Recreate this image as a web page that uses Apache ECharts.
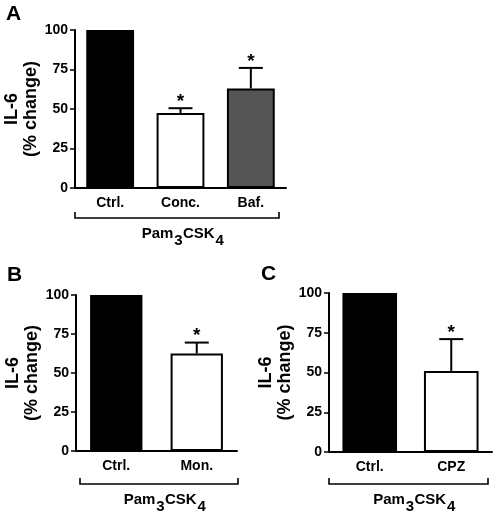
<!DOCTYPE html>
<html><head><meta charset="utf-8">
<script src="https://cdn.jsdelivr.net/npm/echarts@6/dist/echarts.min.js"></script>
<style>html,body{margin:0;padding:0;background:#fff}#c{width:498px;height:514px}</style>
</head><body><div id="c"></div>
<script>
// ---- data ----
const catsA = ['Ctrl.', 'Conc.', 'Baf.'];
const meanA = [100, 47.5, 63];
const semA = [0, 3, 13];
const sigA = [0, 1, 1];
const colorsA = ['#000000', '#ffffff', '#555555'];

const catsB = ['Ctrl.', 'Mon.'];
const meanB = [100, 62.5];
const semB = [0, 7];
const sigB = [0, 1];
const colorsB = ['#000000', '#ffffff'];

const catsC = ['Ctrl.', 'CPZ'];
const meanC = [100, 51];
const semC = [0, 20];
const sigC = [0, 1];
const colorsC = ['#000000', '#ffffff'];

const yMin = 0, yMax = 100, yStep = 25;
const yTitle = 'IL-6\n(% change)';
const panelLetters = ['A', 'B', 'C'];
const groupParts = ['Pam', '3', 'CSK', '4'];

// ---- layout ----
const FONT = 'Liberation Sans, Arial, sans-serif';
const panels = [
  {cats: catsA, mean: meanA, sem: semA, sig: sigA, colors: colorsA,
   grid: {left: 75, top: 30, width: 211, height: 158}, barWidth: '68%',
   letter: {x: 6, y: 4}, bracket: {x1: 75, x2: 279, y: 218}},
  {cats: catsB, mean: meanB, sem: semB, sig: sigB, colors: colorsB,
   grid: {left: 76, top: 295, width: 161, height: 156}, barWidth: '65%',
   letter: {x: 7, y: 265}, bracket: {x1: 80, x2: 238, y: 484}},
  {cats: catsC, mean: meanC, sem: semC, sig: sigC, colors: colorsC,
   grid: {left: 329, top: 293, width: 163, height: 159}, barWidth: '67%',
   letter: {x: 261, y: 264}, bracket: {x1: 329, x2: 488, y: 484}}
];

const grids = [], xAxes = [], yAxes = [], series = [], graphics = [];
panels.forEach((p, k) => {
  grids.push(Object.assign({containLabel: false}, p.grid));
  xAxes.push({
    type: 'category', gridIndex: k, data: p.cats,
    axisLine: {lineStyle: {color: '#000', width: 2}},
    axisTick: {alignWithLabel: true, length: 5, lineStyle: {color: '#000', width: 1.5}},
    axisLabel: {color: '#000', fontFamily: FONT, fontWeight: 'bold', fontSize: 14, margin: 8}
  });
  yAxes.push({
    type: 'value', gridIndex: k, min: yMin, max: yMax, interval: yStep,
    name: yTitle, nameLocation: 'middle', nameRotate: 90, nameGap: 31,
    nameTextStyle: {color: '#000', fontFamily: FONT, fontWeight: 'bold', fontSize: 18, lineHeight: 19},
    axisLine: {show: true, lineStyle: {color: '#000', width: 2}},
    axisTick: {show: true, length: 5, lineStyle: {color: '#000', width: 1.5}},
    axisLabel: {color: '#000', fontFamily: FONT, fontWeight: 'bold', fontSize: 14, margin: 7},
    splitLine: {show: false}
  });
  series.push({
    type: 'bar', xAxisIndex: k, yAxisIndex: k, barWidth: p.barWidth,
    data: p.mean.map((v, i) => ({value: v, itemStyle: {color: p.colors[i], borderColor: '#000', borderWidth: 2}})),
    silent: true, animation: false
  });
  series.push({
    type: 'custom', xAxisIndex: k, yAxisIndex: k, z: 5, animation: false, silent: true,
    data: p.mean.map((v, i) => [i, v, v + p.sem[i], p.sig[i]]),
    encode: {x: 0, y: 1},
    renderItem: function (params, api) {
      const x = api.value(0), m = api.value(1), t = api.value(2), s = api.value(3);
      const p0 = api.coord([x, m]);
      const p1 = api.coord([x, t]);
      const ch = [];
      if (t > m) {
        ch.push({type: 'line', shape: {x1: p0[0], y1: p0[1], x2: p1[0], y2: p1[1]}, style: {stroke: '#000', lineWidth: 2}});
        ch.push({type: 'line', shape: {x1: p1[0] - 12, y1: p1[1], x2: p1[0] + 12, y2: p1[1]}, style: {stroke: '#000', lineWidth: 2}});
      }
      if (s) {
        ch.push({type: 'text', style: {text: '*', x: p1[0], y: p1[1] + 3, align: 'center', verticalAlign: 'bottom',
          font: 'bold 19px ' + FONT, fill: '#000'}});
      }
      return {type: 'group', children: ch};
    }
  });
  graphics.push({type: 'text', left: p.letter.x, top: p.letter.y,
    style: {text: panelLetters[k], font: 'bold 21px ' + FONT, fill: '#000'}});
  const b = p.bracket;
  graphics.push({type: 'polyline', shape: {points: [[b.x1, b.y - 6], [b.x1, b.y], [b.x2, b.y], [b.x2, b.y - 6]]},
    style: {stroke: '#000', lineWidth: 1.6, fill: null}});
  graphics.push({type: 'text', x: (b.x1 + b.x2) / 2 + 6, y: b.y + 8,
    style: {
      text: '{a|' + groupParts[0] + '}{s|' + groupParts[1] + '}{a|' + groupParts[2] + '}{s|' + groupParts[3] + '}',
      align: 'center', verticalAlign: 'top',
      rich: {
        a: {fontFamily: FONT, fontWeight: 'bold', fontSize: 15, lineHeight: 22, verticalAlign: 'top', fill: '#000', color: '#000'},
        s: {fontFamily: FONT, fontWeight: 'bold', fontSize: 15, lineHeight: 22, verticalAlign: 'bottom', padding: [4, 0.5, 0, 0.8], fill: '#000', color: '#000'}
      }
    }});
});

const chart = echarts.init(document.getElementById('c'), null, {renderer: 'canvas'});
chart.setOption({
  animation: false,
  backgroundColor: '#fff',
  grid: grids, xAxis: xAxes, yAxis: yAxes, series: series, graphic: graphics
});
</script>
</body></html>
